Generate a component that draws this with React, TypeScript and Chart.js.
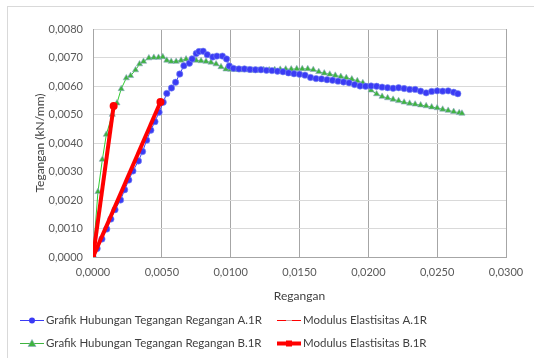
import React, { useEffect, useRef } from "react";
import { Chart, registerables } from "chart.js";

Chart.register(...registerables);

const strainA = [0, 0.0003, 0.00065, 0.001, 0.0013, 0.0016, 0.002, 0.0023, 0.0026, 0.0029, 0.0033, 0.0036, 0.0039, 0.0042, 0.0045, 0.0048, 0.0051, 0.00536, 0.0057, 0.006, 0.0063, 0.0066, 0.007, 0.0072, 0.0075, 0.0077, 0.008, 0.0083, 0.0087, 0.009, 0.0094, 0.0097, 0.0099,
  0.0102, 0.0106, 0.011, 0.0114, 0.0118, 0.0122, 0.0126, 0.013, 0.0134, 0.0138, 0.0142, 0.0146, 0.015, 0.0154, 0.0158, 0.0162, 0.0166, 0.017, 0.0174, 0.0178, 0.0182, 0.0186, 0.019, 0.0194, 0.0198, 0.0202, 0.0206, 0.021, 0.0214, 0.0218, 0.0222, 0.0226, 0.023, 0.0234, 0.0238, 0.0242, 0.0246, 0.025, 0.0254, 0.0258, 0.0262, 0.0265];
const stressA = [0, 0.0003, 0.00063, 0.00098, 0.00133, 0.00166, 0.002, 0.00236, 0.0027, 0.00302, 0.00337, 0.0037, 0.0041, 0.00445, 0.00475, 0.00508, 0.00543, 0.00574, 0.00593, 0.00613, 0.00642, 0.00671, 0.0068, 0.00695, 0.00714, 0.00721, 0.00722, 0.0071, 0.00702, 0.00705, 0.00705, 0.00695, 0.0067,
  0.00662, 0.0066, 0.0066, 0.00658, 0.00657, 0.00657, 0.00655, 0.00654, 0.00652, 0.0065, 0.00646, 0.00643, 0.00641, 0.00638, 0.0063, 0.00626, 0.00625, 0.00622, 0.0062, 0.00617, 0.00614, 0.00611, 0.00605, 0.006, 0.00599, 0.006, 0.00599, 0.00596, 0.00594, 0.00592, 0.00594, 0.00591, 0.00588, 0.00588, 0.00582, 0.00576, 0.00581, 0.00583, 0.00582, 0.00583, 0.00578, 0.00573];

const strainB = [0, 0.00036, 0.00068, 0.00097, 0.0014, 0.00174, 0.00205, 0.00242, 0.00273, 0.00309, 0.00338, 0.00367, 0.00406, 0.00442, 0.00476, 0.00507, 0.00536, 0.00568, 0.00604, 0.0064, 0.00676, 0.00713, 0.00749, 0.00785, 0.00821, 0.00857, 0.00894, 0.0093, 0.00966,
  0.01, 0.0104, 0.0108, 0.0112, 0.0116, 0.012, 0.0124, 0.0128, 0.0132, 0.0136, 0.014, 0.0144, 0.0148, 0.0152, 0.0156, 0.016, 0.0164, 0.0168, 0.0172, 0.0176, 0.018, 0.0184, 0.0188, 0.0192, 0.0196, 0.0199, 0.0202, 0.0206, 0.021, 0.0214, 0.0218, 0.0222, 0.0226, 0.023, 0.0234, 0.0238, 0.0242, 0.0246, 0.025, 0.0254, 0.0258, 0.0262, 0.0266, 0.0268];
const stressB = [0, 0.00229, 0.00342, 0.0043, 0.005, 0.0054, 0.0059, 0.00628, 0.00636, 0.00656, 0.00677, 0.00686, 0.00698, 0.007, 0.007, 0.00702, 0.0069, 0.00686, 0.00686, 0.0069, 0.00694, 0.00694, 0.0069, 0.00688, 0.00686, 0.00683, 0.00677, 0.00667, 0.00659,
  0.00658, 0.00657, 0.00656, 0.00656, 0.00655, 0.00655, 0.00657, 0.00656, 0.00657, 0.00658, 0.00659, 0.00659, 0.0066, 0.0066, 0.0066, 0.00657, 0.0065, 0.00645, 0.00641, 0.00637, 0.00633, 0.00629, 0.00624, 0.00618, 0.00611, 0.00598, 0.00585, 0.00572, 0.00563, 0.00558, 0.00553, 0.00548, 0.00543, 0.00539, 0.00536, 0.00533, 0.0053, 0.00526, 0.00523, 0.00518, 0.00514, 0.0051, 0.00506, 0.00504];

const modStrainA = [0, 0.0049];
const modStressA = [0, 0.00544];
const modStrainB = [0, 0.0015];
const modStressB = [0, 0.0053];

const seriesNames = [
  "Grafik Hubungan Tegangan Regangan A.1R",
  "Modulus Elastisitas A.1R",
  "Grafik Hubungan Tegangan Regangan B.1R",
  "Modulus Elastisitas B.1R",
];

const xTitle = "Regangan";
const yTitle = "Tegangan (kN/mm)";

const FONT = "Lato";
const BLUE = "#3b3bf5";
const GREEN = "#3fb43f";
const RED = "#ff0000";

const toPts = (xs: number[], ys: number[]) => xs.map((x, i) => ({ x, y: ys[i] }));
const fmt = (v: number) => Number(v).toFixed(4).replace(".", ",");

const frame = {
  id: "frame",
  beforeDraw(chart: any) {
    const ctx = chart.ctx;
    ctx.save();
    ctx.fillStyle = "#ffffff";
    ctx.fillRect(0, 0, chart.width, chart.height);
    ctx.strokeStyle = "#d9d9d9";
    ctx.lineWidth = 1;
    ctx.strokeRect(7.5, 6.5, chart.width + 10, chart.height + 10);
    ctx.restore();
  },
};

const legendPlugin = {
  id: "customLegend",
  afterDraw(chart: any) {
    const ctx = chart.ctx;
    ctx.save();
    const items = [
      { x: 20, y: 320, name: seriesNames[0], color: BLUE, w: 1, marker: "circle" },
      { x: 277, y: 320, name: seriesNames[1], color: RED, w: 1, marker: "dash" },
      { x: 20, y: 343, name: seriesNames[2], color: GREEN, w: 1, marker: "triangle" },
      { x: 277, y: 343, name: seriesNames[3], color: RED, w: 4, marker: "square" },
    ];
    for (const it of items) {
      ctx.strokeStyle = it.color;
      ctx.lineWidth = it.w;
      ctx.beginPath();
      ctx.moveTo(it.x, it.y + 0.5);
      ctx.lineTo(it.x + 24, it.y + 0.5);
      ctx.stroke();
      const cx = it.x + 12;
      const cy = it.y + 0.5;
      if (it.marker === "circle") {
        ctx.fillStyle = BLUE;
        ctx.beginPath();
        ctx.arc(cx, cy, 3, 0, Math.PI * 2);
        ctx.fill();
      } else if (it.marker === "triangle") {
        ctx.fillStyle = GREEN;
        ctx.strokeStyle = "#8fa8c8";
        ctx.lineWidth = 0.6;
        ctx.beginPath();
        ctx.moveTo(cx, cy - 4);
        ctx.lineTo(cx + 4, cy + 3);
        ctx.lineTo(cx - 4, cy + 3);
        ctx.closePath();
        ctx.fill();
        ctx.stroke();
      } else if (it.marker === "dash") {
        ctx.strokeStyle = "#c8a0a0";
        ctx.lineWidth = 1;
        ctx.beginPath();
        ctx.moveTo(cx - 3, cy);
        ctx.lineTo(cx + 3, cy);
        ctx.stroke();
      } else {
        ctx.fillStyle = RED;
        ctx.fillRect(cx - 3, cy - 3, 6, 6);
      }
      ctx.fillStyle = "#404040";
      ctx.font = `11.5px ${FONT}`;
      ctx.textAlign = "left";
      ctx.textBaseline = "middle";
      ctx.fillText(it.name, it.x + 26, it.y + 0.5);
    }
    ctx.restore();
  },
};

export default function App() {
  const ref = useRef<HTMLCanvasElement | null>(null);
  useEffect(() => {
    document.body.style.margin = "0";
    if (!ref.current) return;
    const chart = new Chart(ref.current, {
      type: "scatter",
      data: {
        datasets: [
          {
            label: seriesNames[1],
            data: toPts(modStrainA, modStressA),
            showLine: true,
            borderColor: RED,
            backgroundColor: RED,
            borderWidth: 4,
            pointStyle: ["rect", "circle"],
            pointRadius: 4,
            pointBorderWidth: 0,
            order: 0,
          },
          {
            label: seriesNames[3],
            data: toPts(modStrainB, modStressB),
            showLine: true,
            borderColor: RED,
            backgroundColor: RED,
            borderWidth: 4,
            pointStyle: ["rect", "circle"],
            pointRadius: 4,
            pointBorderWidth: 0,
            order: 0,
          },
          {
            label: seriesNames[0],
            data: toPts(strainA, stressA),
            showLine: true,
            borderColor: BLUE,
            backgroundColor: BLUE,
            borderWidth: 1,
            pointStyle: "circle",
            pointRadius: 3.2,
            pointBorderColor: "#7a8cf0",
            pointBorderWidth: 0.6,
            order: 1,
          },
          {
            label: seriesNames[2],
            data: toPts(strainB, stressB),
            showLine: true,
            borderColor: "#33cc33",
            backgroundColor: GREEN,
            borderWidth: 1,
            pointStyle: "triangle",
            pointRadius: 3.6,
            pointBorderColor: "#8fa8c8",
            pointBorderWidth: 0.6,
            order: 2,
          },
        ],
      },
      options: {
        responsive: false,
        animation: false,
        events: [],
        layout: { padding: { top: 29, right: 28, bottom: 55, left: 0 } },
        plugins: { legend: { display: false }, tooltip: { enabled: false } },
        scales: {
          x: {
            type: "linear",
            min: 0,
            max: 0.03,
            afterFit: (s: any) => { s.height = 46; },
            ticks: {
              stepSize: 0.005,
              callback: (v: any) => fmt(v),
              font: { family: FONT, size: 11 },
              color: "#595959",
              padding: 9,
              maxRotation: 0,
            },
            grid: { color: "#a6a6a6", lineWidth: 1, drawTicks: false },
            border: { color: "#a6a6a6" },
            title: {
              display: true,
              text: xTitle,
              font: { family: FONT, size: 12 },
              color: "#404040",
              padding: { top: 0, bottom: 0 },
            },
          },
          y: {
            type: "linear",
            min: 0,
            max: 0.008,
            afterFit: (s: any) => { s.width = 93; },
            ticks: {
              stepSize: 0.001,
              callback: (v: any) => fmt(v),
              font: { family: FONT, size: 11 },
              color: "#595959",
              padding: 10,
            },
            grid: { color: "#d9d9d9", lineWidth: 1, drawTicks: false },
            border: { color: "#a6a6a6" },
            title: {
              display: true,
              text: yTitle,
              font: { family: FONT, size: 12 },
              color: "#404040",
              padding: { top: 33, bottom: 0 },
            },
          },
        },
      },
      plugins: [frame, legendPlugin],
    });
    return () => chart.destroy();
  }, []);
  return (
    <div style={{ width: 534, height: 358 }}>
      <canvas ref={ref} width={534} height={358} style={{ display: "block" }} />
    </div>
  );
}
